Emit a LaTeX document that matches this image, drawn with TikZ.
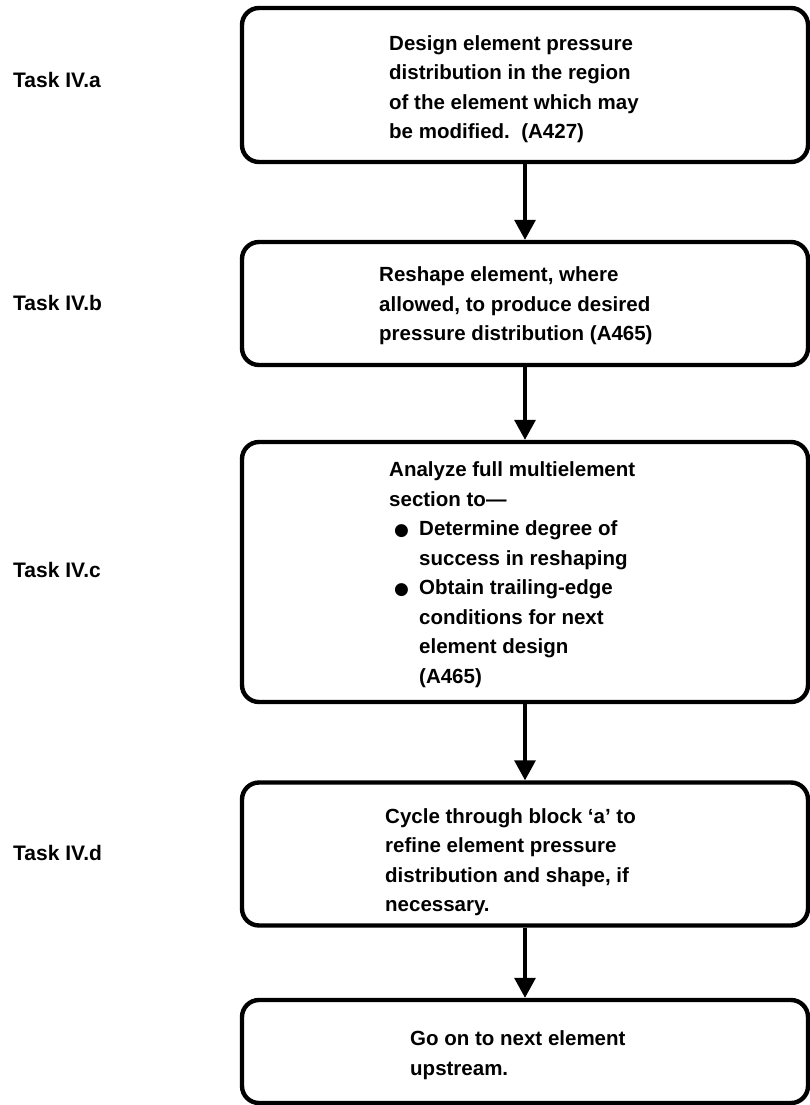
\documentclass[tikz,border=0pt]{standalone}
\usepackage{fontspec}
\setmainfont{Liberation Sans}
\newfontfamily\symfont{DejaVu Sans}
\usetikzlibrary{arrows.meta}
\tikzset{
  box/.style={draw=black, line width=4.4pt, rounded corners=17pt, minimum width=566pt, inner sep=0pt},
  txt/.style={anchor=west, align=left, inner sep=0pt, font=\fontsize{20.5}{29.5}\selectfont\bfseries},
  tasklabel/.style={anchor=west, inner sep=0pt, font=\fontsize{21}{25}\selectfont\bfseries},
  flow/.style={line width=3.2pt, -{Triangle[length=20pt,width=21pt]}}
}
\newcommand{\mybullet}{\makebox[25pt][l]{\symfont\fontsize{17}{17}\selectfont ●}}
\begin{document}
\begin{tikzpicture}[x=1pt,y=-1pt]
\useasboundingbox (0,0) rectangle (810,1105);
% boxes
\node[box, minimum height=154pt] (a) at (525,85) {};
\node[box, minimum height=123pt] (b) at (525,303.5) {};
\node[box, minimum height=260pt] (c) at (525,572) {};
\node[box, minimum height=143pt] (d) at (525,854) {};
\node[box, minimum height=103pt] (e) at (525,1051.5) {};
% box texts
\node[txt] (ta) at (389,89) {Design element pressure\\distribution in the region\\of the element which may\\be modified.\ \ (A427)};
\node[txt] (tb) at (379,306) {Reshape element, where\\allowed, to produce desired\\pressure distribution (A465)};
\node[txt] (tc) at (389,574.5) {Analyze full multielement\\section to—\\
\hspace*{5pt}\mybullet Determine degree of\\
\hspace*{30pt}success in reshaping\\
\hspace*{5pt}\mybullet Obtain trailing-edge\\
\hspace*{30pt}conditions for next\\
\hspace*{30pt}element design\\
\hspace*{30pt}(A465)};
\node[txt] (td) at (385,862) {Cycle through block ‘a’ to\\refine element pressure\\distribution and shape, if\\necessary.};
\node[txt] (te) at (410,1055) {Go on to next element\\upstream.};
% task labels
\node[tasklabel] (la) at (13,80) {Task IV.a};
\node[tasklabel] (lb) at (13,303) {Task IV.b};
\node[tasklabel] (lc) at (13,570) {Task IV.c};
\node[tasklabel] (ld) at (13,853) {Task IV.d};
% connectors
\draw[flow] (a.south) -- (b.north);
\draw[flow] (b.south) -- (c.north);
\draw[flow] (c.south) -- (d.north);
\draw[flow] (d.south) -- (e.north);
\end{tikzpicture}
\end{document}
